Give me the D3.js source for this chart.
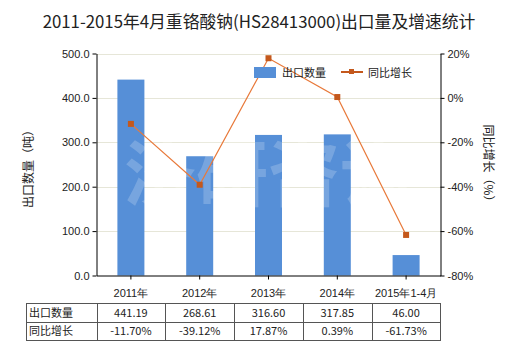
<!DOCTYPE html>
<html><head><meta charset="utf-8">
<script src="https://cdn.jsdelivr.net/npm/d3@7"></script>
<style>
body{margin:0;background:#fff;}
svg{display:block;font-family:"Noto Sans CJK SC","DejaVu Sans",sans-serif;}
</style></head>
<body><svg id="c" width="520" height="350"></svg>
<script>
const categories = ["2011年","2012年","2013年","2014年","2015年1-4月"];
const exportQty = [441.19, 268.61, 316.60, 317.85, 46.00];
const growth = [-11.70, -39.12, 17.87, 0.39, -61.73];
const qtyLabels = ["441.19","268.61","316.60","317.85","46.00"];
const growthLabels = ["-11.70%","-39.12%","17.87%","0.39%","-61.73%"];
const leftTicks = [0,100,200,300,400,500];
const rightTicks = [-80,-60,-40,-20,0,20];

const svg = d3.select("#c");
const L = 96.5, R = 440.5, T = 53.5, B = 275.5;
const barColor = "#568fd7", lineColor = "#e8793a", markColor = "#c4581c";

const x = d3.scaleBand().domain(categories).range([L, R]).paddingInner(0).paddingOuter(0);
const yL = d3.scaleLinear().domain([0,500]).range([B, T]);
const yR = d3.scaleLinear().domain([-80,20]).range([B, T]);

// title
svg.append("text").attr("x",259).attr("y",28).attr("text-anchor","middle")
  .attr("font-size",16.8).attr("fill","#222").text("2011-2015年4月重铬酸钠(HS28413000)出口量及增速统计");

// grid
svg.append("g").selectAll("line").data(leftTicks.filter(d=>d>0)).join("line")
  .attr("x1",L).attr("x2",R).attr("y1",d=>Math.round(yL(d))+0.5).attr("y2",d=>Math.round(yL(d))+0.5)
  .attr("stroke","#e6e6d8").attr("stroke-width",1);

// bars
const bw = 27;
svg.append("g").selectAll("rect").data(exportQty).join("rect")
  .attr("x",(d,i)=>x(categories[i])+x.bandwidth()/2-bw/2)
  .attr("width",bw)
  .attr("y",d=>yL(d)).attr("height",d=>yL(0)-yL(d))
  .attr("fill",barColor);

// watermark
svg.append("text").attr("x",268).attr("y",200).attr("text-anchor","middle")
  .attr("font-size",72).attr("font-weight","bold").attr("fill","#ffffff").attr("fill-opacity",0.2)
  .text("济研咨询");

// line
const line = d3.line().x((d,i)=>x(categories[i])+x.bandwidth()/2).y(d=>yR(d));
svg.append("path").datum(growth).attr("d",line).attr("fill","none")
  .attr("stroke",lineColor).attr("stroke-width",1.2);
svg.append("g").selectAll("rect").data(growth).join("rect")
  .attr("x",(d,i)=>x(categories[i])+x.bandwidth()/2-3).attr("y",d=>yR(d)-3)
  .attr("width",6).attr("height",6).attr("fill",markColor);

// axes
const fmt = d3.format(".1f");
const gl = svg.append("g").attr("transform",`translate(${L},0)`)
  .call(d3.axisLeft(yL).tickValues(leftTicks).tickFormat(fmt).tickSize(4).tickSizeOuter(0));
const gr = svg.append("g").attr("transform",`translate(${R},0)`)
  .call(d3.axisRight(yR).tickValues(rightTicks).tickFormat(d=>d+"%").tickSize(4).tickSizeOuter(0));
const gb = svg.append("g").attr("transform",`translate(0,${B})`)
  .call(d3.axisBottom(x).tickSize(4).tickSizeOuter(0));
[gl,gr,gb].forEach(g=>{
  g.selectAll("path,line").attr("stroke","#000");
  g.selectAll("text").attr("font-size",11).attr("fill","#222");
});
gb.selectAll("text").attr("dy","1.3em");

// axis titles
svg.append("text").attr("transform","translate(33,166) rotate(-90)").attr("text-anchor","middle")
  .attr("font-size",12).attr("fill","#222").text("出口数量（吨）");
svg.append("text").attr("transform","translate(484,166) rotate(90)").attr("text-anchor","middle")
  .attr("font-size",12).attr("fill","#222").text("同比增长（%）");

// legend
const lg = svg.append("g");
lg.append("rect").attr("x",254).attr("y",67).attr("width",22).attr("height",11).attr("fill",barColor);
lg.append("text").attr("x",282).attr("y",77).attr("font-size",11).attr("fill","#222").text("出口数量");
lg.append("line").attr("x1",341).attr("x2",363).attr("y1",72).attr("y2",72).attr("stroke",markColor).attr("stroke-width",2);
lg.append("rect").attr("x",349).attr("y",69).attr("width",5).attr("height",5).attr("fill",markColor);
lg.append("text").attr("x",368).attr("y",77).attr("font-size",11).attr("fill","#222").text("同比增长");

// table
const tT = 303.5, tM = 322.5, tB = 340.5, tL = 26.5;
const tg = svg.append("g");
const colEdges = [tL].concat(categories.map(c=>x(c))).concat([R]);
tg.append("rect").attr("x",tL).attr("y",tT).attr("width",R-tL).attr("height",tB-tT)
  .attr("fill","none").attr("stroke","#555");
tg.append("line").attr("x1",tL).attr("x2",R).attr("y1",tM).attr("y2",tM).attr("stroke","#555");
colEdges.slice(1,-1).forEach(xx=>{
  tg.append("line").attr("x1",Math.round(xx)+0.5).attr("x2",Math.round(xx)+0.5).attr("y1",tT).attr("y2",tB).attr("stroke","#555");
});
tg.append("text").attr("x",29).attr("y",317).attr("font-size",11).attr("fill","#222").text("出口数量");
tg.append("text").attr("x",29).attr("y",335).attr("font-size",11).attr("fill","#222").text("同比增长");
tg.selectAll("text.q").data(qtyLabels).join("text").attr("class","q")
  .attr("x",(d,i)=>x(categories[i])+x.bandwidth()/2).attr("y",317).attr("text-anchor","middle")
  .attr("font-size",11).attr("fill","#222").text(d=>d);
tg.selectAll("text.g").data(growthLabels).join("text").attr("class","g")
  .attr("x",(d,i)=>x(categories[i])+x.bandwidth()/2).attr("y",335).attr("text-anchor","middle")
  .attr("font-size",11).attr("fill","#222").text(d=>d);
</script></body></html>
